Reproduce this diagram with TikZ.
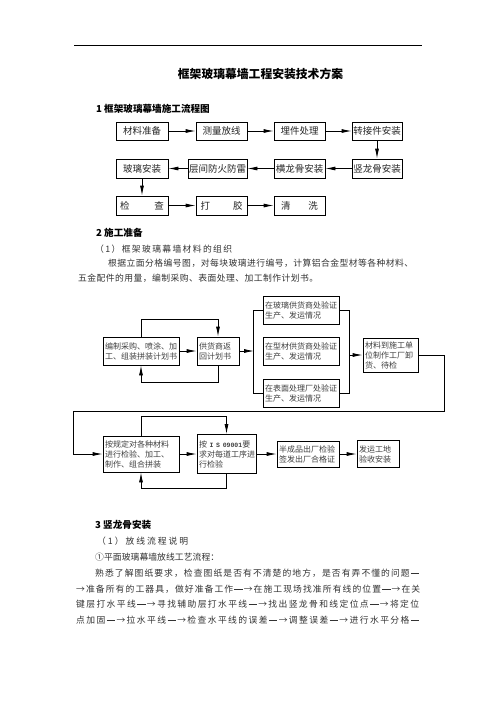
\documentclass[tikz,border=0pt]{standalone}
\usepackage{fontspec}
\setmainfont{Noto Sans CJK SC}
\newfontfamily\monof{Liberation Mono}
\usetikzlibrary{arrows.meta}
% spread characters evenly over a given width
\def\spr#1#2{\hbox to #1{\sprA#2\relax}}
\def\sprA#1{#1\futurelet\sprN\sprB}
\def\sprB{\ifx\sprN\relax\expandafter\sprEnd\else\hfil\expandafter\sprA\fi}
\def\sprEnd\relax{}
\def\dsh{\rule[0.33em]{0.95em}{0.07em}}
\begin{document}
\begin{tikzpicture}[x=1pt,y=-1pt,
  fbox/.style={draw, line width=0.8pt, inner sep=0pt, font=\fontsize{9.5}{11}\selectfont, text=black!85},
  pbox/.style={draw, line width=0.8pt, inner sep=2pt, align=left, font=\fontsize{8}{10}\selectfont, text=black!75},
  arr/.style={-{Latex[length=10pt,width=4pt]}, line width=0.8pt},
  ln/.style={line width=0.8pt},
  body/.style={anchor=west, inner sep=0pt, font=\fontsize{8.8}{10}\selectfont, text=black!80},
  head/.style={anchor=west, inner sep=0pt, font=\fontsize{9.6}{11}\selectfont\bfseries}]
\useasboundingbox (0,0) rectangle (496,702);
\fill[white] (0,0) rectangle (496,702);

% header rule and title
\draw[line width=0.8pt] (74,45) -- (422,45);
\node[inner sep=0pt, font=\fontsize{11.8}{13}\selectfont\bfseries] (title) at (260.5,74) {框架玻璃幕墙工程安装技术方案};

% section 1
\node[head] (h1) at (96,108.5) {1 框架玻璃幕墙施工流程图};

\node[fbox, minimum width=52pt, minimum height=18pt] (n1) at (142,131) {材料准备};
\node[fbox, minimum width=51pt, minimum height=18pt] (n2) at (221.5,131) {测量放线};
\node[fbox, minimum width=51pt, minimum height=18pt] (n3) at (299.5,131) {埋件处理};
\node[fbox, minimum width=50pt, minimum height=18pt] (n4) at (377,131) {转接件安装};
\node[fbox, minimum width=50pt, minimum height=19pt] (n5) at (377,168.5) {竖龙骨安装};
\node[fbox, minimum width=51pt, minimum height=19pt] (n6) at (299.5,168.5) {横龙骨安装};
\node[fbox, minimum width=59pt, minimum height=19pt] (n7) at (217.5,168.5) {层间防火防雷};
\node[fbox, minimum width=52pt, minimum height=19pt] (n8) at (142,168.5) {玻璃安装};
\node[fbox, minimum width=52pt, minimum height=19pt] (n9) at (142,205.5) {\hbox to 44pt{检\hfil 查}};
\node[fbox, minimum width=51pt, minimum height=19pt] (n10) at (221.5,205.5) {\hbox to 42pt{打\hfil 胶}};
\node[fbox, minimum width=51pt, minimum height=19pt] (n11) at (299.5,205.5) {\hbox to 37pt{清\hfil 洗}};

\draw[arr] (n1) -- (n2);
\draw[arr] (n2) -- (n3);
\draw[arr] (n3) -- (n4);
\draw[arr] (n4) -- (n5);
\draw[arr] (n5) -- (n6);
\draw[arr] (n6) -- (n7);
\draw[arr] (n7) -- (n8);
\draw[arr] (n8) -- (n9);
\draw[arr] (n9) -- (n10);
\draw[arr] (n10) -- (n11);

% section 2
\node[head] (h2) at (96,233) {2 施工准备};
\node[body] (p1) at (95,249) {\spr{137pt}{（1）框架玻璃幕墙材料的组织}};
\node[body] (p2) at (108,263.5) {\spr{305pt}{根据立面分格编号图，对每块玻璃进行编号，计算铝合金型材等各种材料、}};
\node[body] (p3) at (78,278) {\spr{240pt}{五金配件的用量，编制采购、表面处理、加工制作计划书。}};

\node[pbox, text width=72pt, minimum height=28pt] (a) at (141,351) {编制采购、喷涂、加\\工、组装拼装计划书};
\node[pbox, text width=38pt, minimum height=28pt] (b) at (218,351) {供货商返\\回计划书};
\node[pbox, text width=72pt, minimum height=28pt] (c1) at (301,310) {在玻璃供货商处验证\\生产、发运情况};
\node[pbox, text width=72pt, minimum height=28pt] (c2) at (301,351) {在型材供货商处验证\\生产、发运情况};
\node[pbox, text width=72pt, minimum height=28pt] (c3) at (301,393) {在表面处理厂处验证\\生产、发运情况};
\node[pbox, text width=51pt, minimum height=34pt] (d) at (390.5,355) {材料到施工单\\位制作工厂卸\\货、待检};

\draw[arr] (a) -- (b);
\draw[arr] (a.north) -- ++(0,-17) -| (b.north);
\draw[arr] (b.south) -- ++(0,17) -| (a.south);
\coordinate (vl) at (254,351);
\draw[arr] (b) -- (vl);
\draw[ln] (c1.west) -- ++(-9,0) |- (c3.west);
\draw[ln] (c1.east) -- ++(10,0) |- (c3.east);
\coordinate (vr) at (349,355);
\draw[arr] (vr) -- (d.west);

\node[pbox, text width=72pt, minimum height=36pt] (e) at (141,454) {按规定对各种材料\\进行检验、加工、\\制作、组合拼装};
\node[pbox, text width=55pt, minimum height=39pt] (f) at (226.5,454) {按 {\monof\bfseries\fontsize{6.5}{10}\selectfont I S 09001}要\\求对每道工序进\\行检验};
\node[pbox, text width=58pt, minimum height=26pt] (g) at (308,454) {半成品出厂检验\\签发出厂合格证};
\node[pbox, text width=38pt, minimum height=27pt] (h) at (378,454) {发运工地\\验收安装};

\coordinate (r1) at (444,411);
\coordinate (l1) at (73,411);
\draw[arr] (d.east) -| (r1) -- (l1) |- (e.west);
\draw[arr] (e) -- (f);
\draw[arr] (f) -- (g);
\draw[arr] (g) -- (h);
\draw[arr] (e.north) -- ++(0,-19) -| (f.north);
\draw[arr] (f.south) -- ++(0,14.5) -| (e.south);

% section 3
\node[head] (h3) at (95,525) {3 竖龙骨安装};
\node[body] (q1) at (97,541.5) {\spr{91pt}{（1）放线流程说明}};
\node[body] (q2) at (95,557) {\spr{124pt}{①平面玻璃幕墙放线工艺流程：}};
\node[body] (q3) at (95,573) {\spr{324pt}{熟悉了解图纸要求，检查图纸是否有不清楚的地方，是否有弄不懂的问题\dsh}};
\node[body] (q4) at (76,589) {\spr{344pt}{→准备所有的工器具，做好准备工作\dsh→在施工现场找准所有线的位置\dsh→在关}};
\node[body] (q5) at (76,604.5) {\spr{343pt}{键层打水平线\dsh→寻找辅助层打水平线\dsh→找出竖龙骨和线定位点\dsh→将定位}};
\node[body] (q6) at (76,620) {\spr{343pt}{点加固\dsh→拉水平线\dsh→检查水平线的误差\dsh→调整误差\dsh→进行水平分格\dsh}};
\end{tikzpicture}
\end{document}
